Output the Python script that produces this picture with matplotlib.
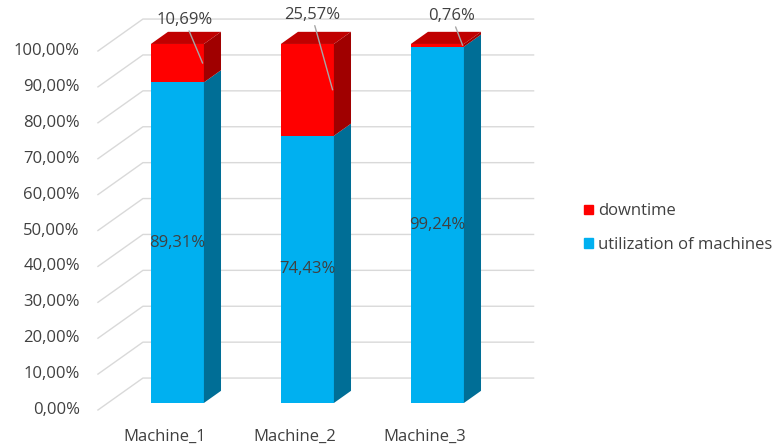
import matplotlib.pyplot as plt
from matplotlib.patches import Patch
import numpy as np

machines = ["Machine_1", "Machine_2", "Machine_3"]
utilization = [89.31, 74.43, 99.24]
downtime = [10.69, 25.57, 0.76]
ticks = list(range(0, 101, 10))

def pct(v):
    return f"{v:.2f}".replace(".", ",") + "%"

blue, blue_side = "#00B0F0", "#006E96"
red, red_top, red_side = "#FF0000", "#C00000", "#A00000"
txt = "#404040"
grid = "#D9D9D9"

plt.rcParams["font.family"] = ["Open Sans", "DejaVu Sans"]
plt.rcParams["font.size"] = 12

# fake 3d: depth offsets in data units
DX, DY = 0.346, 8.9
D0, D1 = 0.22, 0.60
W = 0.204
X_LEFT, X_RIGHT = -0.535, 2.47

fig = plt.figure(figsize=(7.78, 4.46), dpi=100)
ax = fig.add_axes([0, 0, 1, 1])
ax.set_xlim(-167.5 / 130, (778 - 167.5) / 130)
ax.set_ylim(-36 / 3.59, 410 / 3.59)
ax.axis("off")

# walls
for t in ticks:
    ax.plot([X_LEFT, X_LEFT + DX, X_RIGHT + DX], [t, t + DY, t + DY],
            color=grid, lw=1, zorder=1)
    ax.text(X_LEFT - 0.14, t, pct(t), ha="right", va="center", color=txt)

x = np.arange(len(machines))
xf = x + D0 * DX
dd = D1 - D0
ax.bar(xf, utilization, width=2 * W, bottom=D0 * DY, color=blue, zorder=3)
ax.bar(xf, downtime, width=2 * W, bottom=np.array(utilization) + D0 * DY,
       color=red, zorder=3)

for i in range(len(machines)):
    xr = xf[i] + W
    xl = xf[i] - W
    segs = [(0, utilization[i], blue_side),
            (utilization[i], utilization[i] + downtime[i], red_side)]
    for lo, hi, c in segs:
        lo += D0 * DY
        hi += D0 * DY
        ax.fill([xr, xr + dd * DX, xr + dd * DX, xr],
                [lo, lo + dd * DY, hi + dd * DY, hi], color=c, lw=0, zorder=3)
    top = utilization[i] + downtime[i] + D0 * DY
    ax.fill([xl, xr, xr + dd * DX, xl + dd * DX],
            [top, top, top + dd * DY, top + dd * DY], color=red_top, lw=0, zorder=3)

    ax.text(xf[i], D0 * DY + utilization[i] / 2, pct(utilization[i]),
            ha="center", va="center", color=txt, zorder=5)
    ax.text(x[i] - 0.02, -7.5, machines[i], ha="center", va="center", color=txt)

offsets = [(-13, 31), (-15, 54), (-8, 21)]
for i in range(len(machines)):
    ax.annotate(pct(downtime[i]),
                xy=(xf[i] + W - 0.01, D0 * DY + utilization[i] + downtime[i] / 2),
                xytext=offsets[i], textcoords="offset points",
                ha="center", va="center", color=txt, zorder=6,
                arrowprops=dict(arrowstyle="-", color="#A6A6A6", lw=1,
                                shrinkA=0, shrinkB=0))

handles = [Patch(color=red), Patch(color=blue)]
fig.legend(handles, ["downtime", "utilization of machines"],
           loc="center left", bbox_to_anchor=(576 / 778, 1 - 228 / 446),
           frameon=False, handlelength=0.5, handleheight=0.5,
           handletextpad=0.3, labelspacing=1.05, borderpad=0, labelcolor=txt)

fig.savefig("out.png", dpi=100)
